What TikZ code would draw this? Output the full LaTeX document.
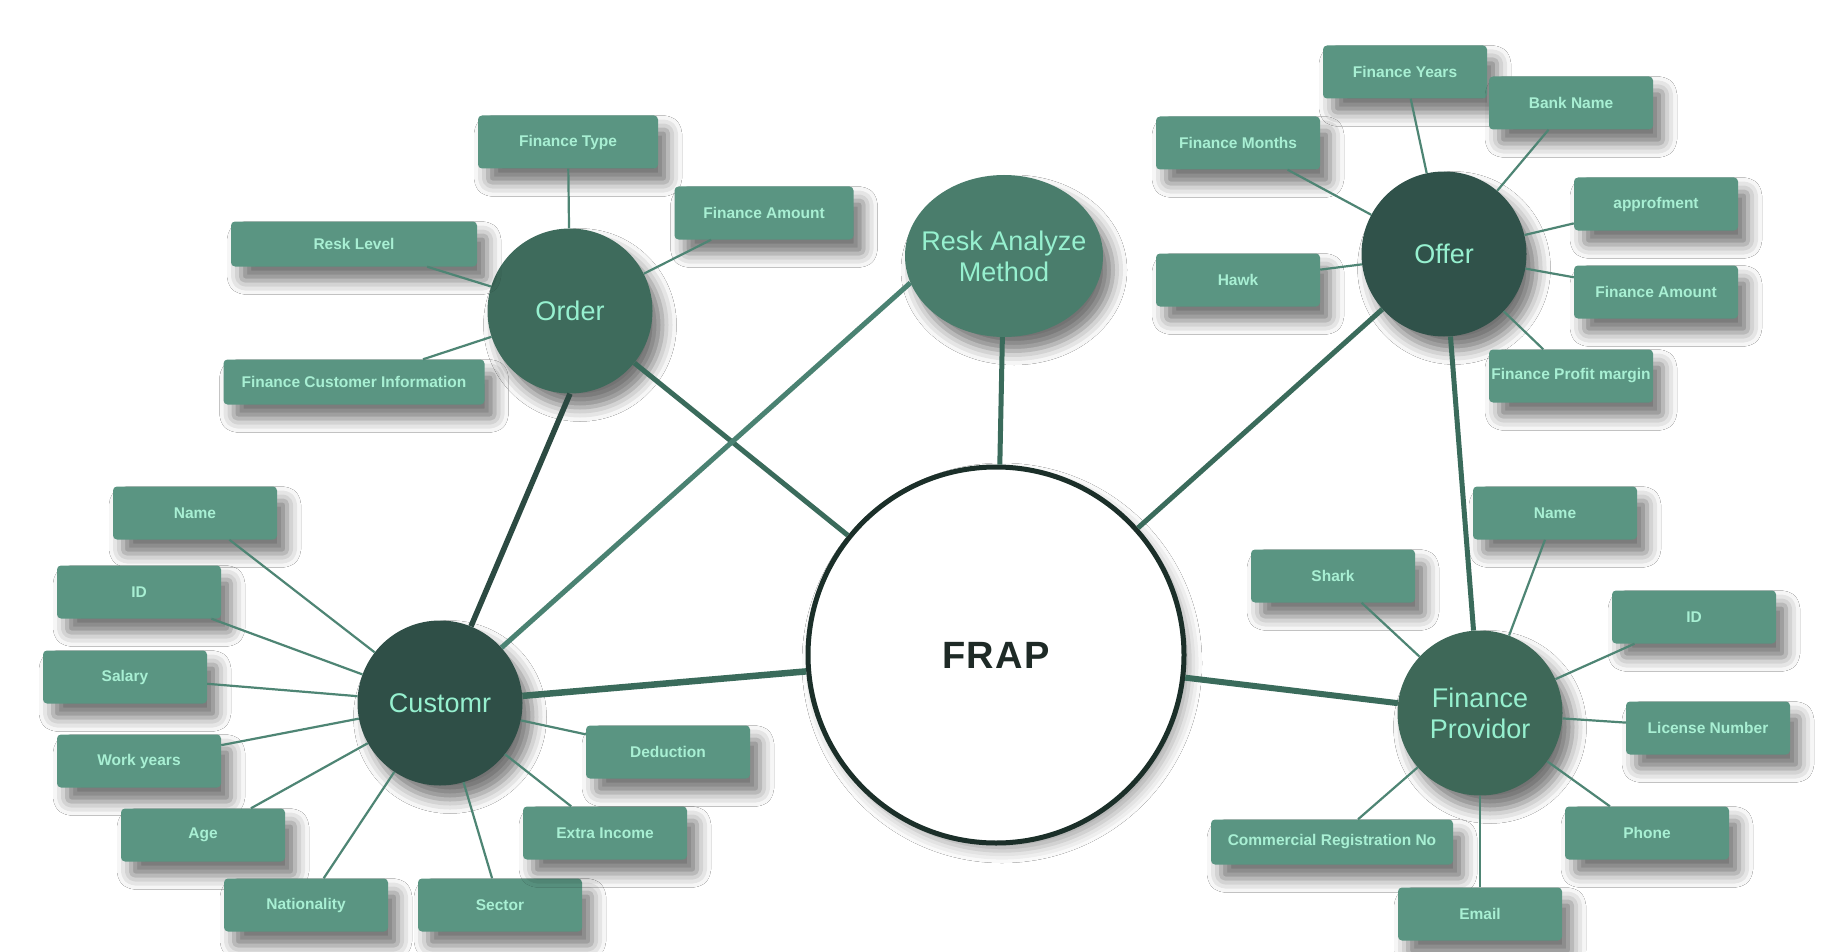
\documentclass[tikz,border=0pt]{standalone}
\usepackage{fontspec}
\setmainfont{Liberation Sans}
\usetikzlibrary{shapes.geometric,shadows.blur}
\definecolor{boxfill}{HTML}{5A9582}
\definecolor{boxtext}{HTML}{A8EFD3}
\definecolor{circtext}{HTML}{96F0CF}
\definecolor{reskfill}{HTML}{4A7D6C}
\definecolor{orderfill}{HTML}{3E6B5C}
\definecolor{offerfill}{HTML}{30524A}
\definecolor{custfill}{HTML}{2F4F47}
\definecolor{fpfill}{HTML}{3E6858}
\definecolor{ringc}{HTML}{1B2F29}
\definecolor{linec}{HTML}{3A6B5B}
\definecolor{darkline}{HTML}{2C4A42}
\definecolor{lightline}{HTML}{4A8272}
\definecolor{attrc}{HTML}{4E8574}
\definecolor{fraptext}{HTML}{1E2A26}
\begin{document}
\begin{tikzpicture}[x=1pt,y=-1pt,
  shad/.style={blur shadow={shadow xshift=10pt,shadow yshift=-14pt,shadow blur radius=14pt,shadow opacity=55}},
  attrbox/.style={rectangle,rounded corners=4pt,fill=boxfill,text=boxtext,
    font=\fontsize{15.5}{18}\selectfont\bfseries,minimum width=164pt,minimum height=53pt,inner sep=0pt,shad},
  ent/.style={circle,minimum size=165pt,inner sep=0pt,text=circtext,
    font=\fontsize{27}{31}\selectfont,align=center,shad},
  mainln/.style={line width=5pt,color=linec},
  attrln/.style={line width=2.2pt,color=attrc}]
\useasboundingbox[fill=white] (0,0) rectangle (1838,952);

% central
\node[circle,draw=ringc,line width=5pt,fill=white,minimum size=376pt,inner sep=0pt,
  blur shadow={shadow xshift=6pt,shadow yshift=-8pt,shadow blur radius=12pt,shadow opacity=35},
  font=\fontsize{38}{44}\selectfont\bfseries,text=fraptext] (frap) at (996,655) {F\kern1.5ptR\kern1.5ptA\kern1.5ptP};

% entities
\node[ellipse,minimum width=198pt,minimum height=162pt,inner sep=0pt,fill=reskfill,shad,
  label={[text=circtext,font=\fontsize{27}{31}\selectfont,align=center]center:Resk Analyze\\Method}] (resk) at (1004,256) {};
\node[ent,fill=orderfill] (order) at (570,311) {Order};
\node[ent,fill=offerfill] (offer) at (1444,254) {Offer};
\node[ent,fill=custfill] (cust) at (440,703) {Customr};
\node[ent,fill=fpfill] (fp) at (1480,713) {Finance\\Providor};

% order attributes
\node[attrbox,minimum width=180pt] (oft) at (568,142) {Finance Type};
\node[attrbox,minimum width=179pt] (ofa) at (764,213) {Finance Amount};
\node[attrbox,minimum width=246pt,minimum height=45pt] (orl) at (354,244) {Resk Level};
\node[attrbox,minimum width=261pt,minimum height=45pt] (ofci) at (354,382) {Finance Customer Information};

% offer attributes
\node[attrbox] (ffy) at (1405,72) {Finance Years};
\node[attrbox] (fbn) at (1571,103) {Bank Name};
\node[attrbox] (ffm) at (1238,143) {Finance Months};
\node[attrbox] (fap) at (1656,204) {approfment};
\node[attrbox] (fhk) at (1238,280) {Hawk};
\node[attrbox] (ffa) at (1656,292) {Finance Amount};
\node[attrbox] (fpm) at (1571,376) {Finance Profit margin};

% customer attributes
\node[attrbox] (cnm) at (195,513) {Name};
\node[attrbox] (cid) at (139,592) {ID};
\node[attrbox] (csl) at (125,677) {Salary};
\node[attrbox] (cwy) at (139,761) {Work years};
\node[attrbox] (cag) at (203,835) {Age};
\node[attrbox] (cna) at (306,905) {Nationality};
\node[attrbox] (cse) at (500,905) {Sector};
\node[attrbox] (cei) at (605,833) {Extra Income};
\node[attrbox] (cde) at (668,752) {Deduction};

% finance provider attributes
\node[attrbox] (pnm) at (1555,513) {Name};
\node[attrbox] (psh) at (1333,576) {Shark};
\node[attrbox] (pid) at (1694,617) {ID};
\node[attrbox] (pln) at (1708,728) {License Number};
\node[attrbox] (pph) at (1647,833) {Phone};
\node[attrbox,minimum width=242pt,minimum height=45pt] (pcr) at (1332,842) {Commercial Registration No};
\node[attrbox] (pem) at (1480,914) {Email};

% main connectors
\draw[mainln] (order) -- (frap);
\draw[mainln,color=darkline,line width=5.5pt] (order.270) -- (cust.68);
\draw[mainln,color=lightline] (resk.196) -- (cust.42);
\draw[mainln] (resk) -- (frap);
\draw[mainln] (offer) -- (frap);
\draw[mainln] (offer) -- (fp);
\draw[mainln,line width=6.5pt] (cust) -- (frap);
\draw[mainln,line width=6pt] (frap) -- (fp);

% attribute connectors
\foreach \a in {oft,ofa,orl,ofci} \draw[attrln] (\a) -- (order);
\foreach \a in {ffy,fbn,ffm,fap,fhk,ffa,fpm} \draw[attrln] (\a) -- (offer);
\foreach \a in {cnm,cid,csl,cwy,cag,cna,cse,cei,cde} \draw[attrln] (\a) -- (cust);
\foreach \a in {pnm,psh,pid,pln,pph,pcr,pem} \draw[attrln] (\a) -- (fp);
\end{tikzpicture}
\end{document}
